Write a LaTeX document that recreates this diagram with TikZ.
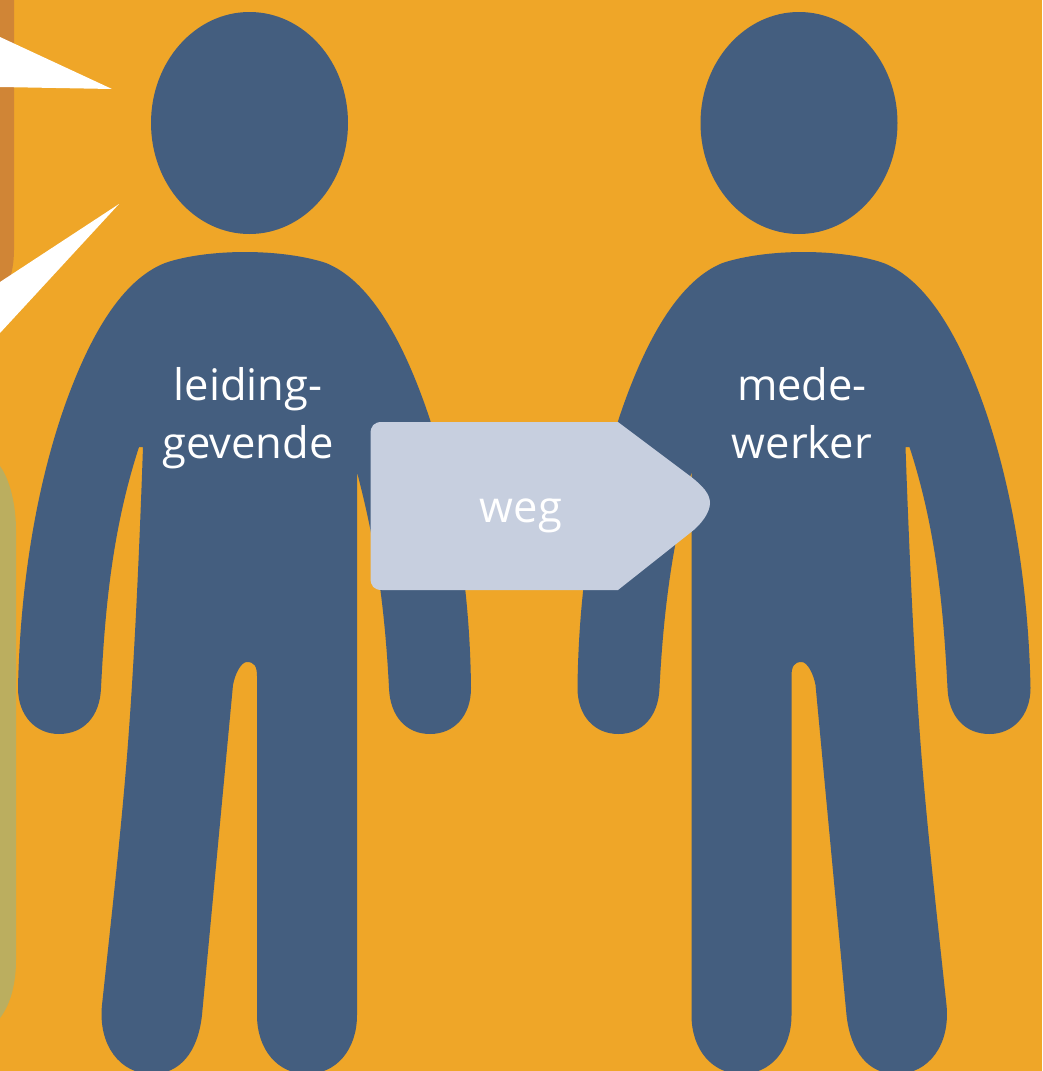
\documentclass[tikz,border=0pt]{standalone}
\usepackage{fontspec}
\setmainfont{Open Sans}
\definecolor{bgorange}{HTML}{EFA628}
\definecolor{barbrown}{HTML}{D08536}
\definecolor{barolive}{HTML}{BBAE5F}
\definecolor{personblue}{HTML}{445E7F}
\definecolor{arrowgrey}{HTML}{C7CFDF}
\tikzset{
  personfill/.style={fill=personblue,draw=none},
  ray/.style={fill=white,draw=none},
  lab/.style={text=white,align=center,inner sep=0pt,font=\fontsize{43.5}{58}\selectfont},
}
\newcommand{\personshape}{%
  \fill[personfill] (249.5,123) ellipse [x radius=98.5, y radius=111];
  \fill[personfill]
    (245,252)
    .. controls (215,252) and (185,256) .. (165,263)
    .. controls (122,280) and (90,335) .. (65,405)
    .. controls (35,490) and (20,590) .. (18,688)
    .. controls (18,716) and (36,734) .. (59,734)
    .. controls (84,734) and (100,716) .. (101,688)
    .. controls (105,610) and (112,530) .. (139,447)
    -- (143,447)
    .. controls (138,590) and (132,700) .. (125,780)
    .. controls (118,860) and (110,930) .. (102,1005)
    .. controls (98,1045) and (120,1074) .. (152,1074)
    .. controls (180,1074) and (198,1052) .. (202,1015)
    -- (233,685)
    .. controls (235,674) and (241,662) .. (247,662)
    .. controls (254,662) and (257,666) .. (257,676)
    -- (257,1015)
    .. controls (257,1050) and (278,1074) .. (307,1074)
    .. controls (336,1074) and (357,1050) .. (357,1015)
    -- (357,472)
    .. controls (372,530) and (384,590) .. (389,688)
    .. controls (390,716) and (406,734) .. (430,734)
    .. controls (454,734) and (471,716) .. (471,688)
    .. controls (470,590) and (455,490) .. (425,405)
    .. controls (400,335) and (368,280) .. (326,263)
    .. controls (305,256) and (275,252) .. (245,252)
    -- cycle;
}
\begin{document}
\begin{tikzpicture}[x=1pt,y=-1pt]
  \useasboundingbox (0,0) rectangle (1042,1071);
  \fill[bgorange] (0,0) rectangle (1042,1071);
  % side bars
  \fill[barbrown] (0,0) -- (14,0) -- (14,250) .. controls (14,262) and (12,274) .. (8,284) -- (0,292) -- cycle;
  \fill[barolive] (0,466) .. controls (10,480) and (16,505) .. (16,530) -- (16,960) .. controls (16,985) and (10,1005) .. (0,1018) -- cycle;
  % rays
  \fill[ray] (0,37) -- (112,89) -- (0,87) -- cycle;
  \fill[ray] (0,282) -- (119,204) -- (0,333) -- cycle;
  % persons
  \personshape
  \begin{scope}[xshift=1048.5pt,xscale=-1]
    \personshape
  \end{scope}
  % arrow
  \fill[arrowgrey] (382,422) -- (618,422) -- (690,476)
    .. controls (703,486) and (710,494) .. (710,503)
    .. controls (710,512) and (702,524) .. (690,533)
    -- (618,590) -- (382,590)
    .. controls (374,590) and (370.5,586) .. (370.5,578)
    -- (370.5,434)
    .. controls (370.5,426) and (374,422) .. (382,422) -- cycle;
  % labels
  \node[lab] (leader) at (248,418.5) {leiding-\\gevende};
  \node[lab] (worker) at (802,413) {mede-\\werker};
  \node[lab] (away) at (521,516) {weg};
\end{tikzpicture}
\end{document}
